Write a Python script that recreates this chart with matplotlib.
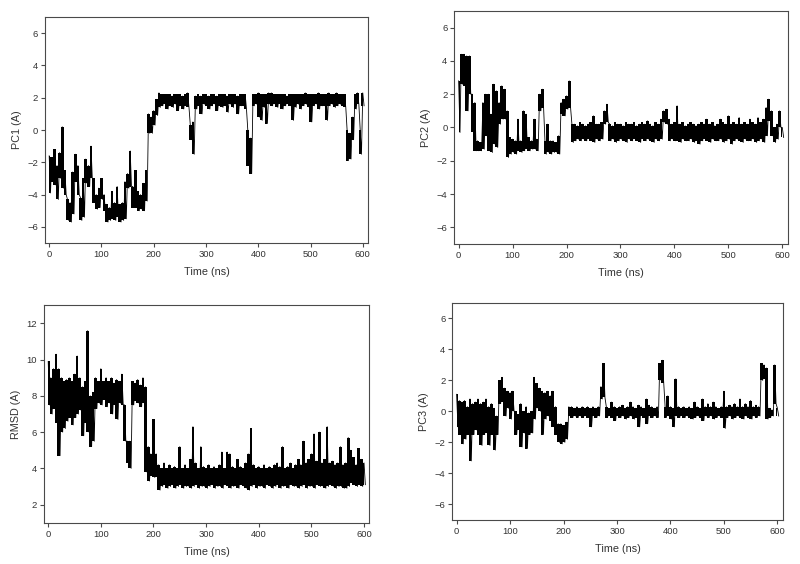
import numpy as np
import matplotlib
matplotlib.use("Agg")
import matplotlib.pyplot as plt

plt.rcParams['font.family'] = ['Liberation Sans', 'DejaVu Sans']

# Sampling grid (ns); each sample holds the upper and lower excursion
time_ns = np.arange(0, 605, 5)

pc1_hi = [-1.6, -1.7, -1.2, -2.2, -1.4, 0.2, -2.5, -4.3, -4.5, -2.6,
          -1.5, -2.2, -4.2, -3.0, -1.8, -2.2, -1.0, -3.0, -4.0, -3.6,
          -3.0, -4.0, -4.6, -4.8, -3.8, -4.5, -3.5, -4.6, -4.5, -3.2,
          -2.7, -1.3, -3.5, -2.5, -3.8, -4.0, -3.3, -2.5, 1.0, 0.8,
          1.2, 1.9, 2.3, 2.2, 2.2, 2.2, 2.2, 2.1, 2.2, 2.2,
          2.2, 2.1, 2.2, 2.3, 0.3, 0.5, 2.1, 2.2, 2.1, 2.2,
          2.2, 2.1, 2.2, 2.2, 2.1, 2.2, 2.2, 2.2, 2.1, 2.2,
          2.2, 2.2, 2.1, 2.2, 2.2, 2.2, 0.0, -0.5, 2.2, 2.2,
          2.3, 2.2, 2.2, 2.2, 2.3, 2.3, 2.2, 2.2, 2.2, 2.2,
          2.2, 2.1, 2.2, 2.2, 2.2, 2.2, 2.2, 2.2, 2.3, 2.2,
          2.2, 2.2, 2.2, 2.3, 2.2, 2.2, 2.2, 2.3, 2.2, 2.2,
          2.3, 2.2, 2.2, 2.2, 0.0, -0.2, 0.8, 2.2, 2.3, 0.0,
          2.3]
pc1_lo = [-3.9, -3.2, -3.4, -4.3, -3.0, -3.6, -4.0, -5.6, -5.7, -5.2,
          -3.2, -4.0, -5.6, -5.4, -3.3, -3.5, -3.0, -4.5, -4.9, -4.8,
          -4.3, -5.0, -5.7, -5.6, -5.5, -5.6, -5.4, -5.7, -5.6, -5.5,
          -3.6, -3.5, -4.8, -4.8, -5.0, -4.9, -5.0, -4.4, -0.2, -0.2,
          0.3, 0.9, 1.4, 1.5, 1.6, 1.3, 1.5, 1.4, 1.6, 1.2,
          1.5, 1.3, 1.5, 1.4, -0.6, -1.5, 1.3, 1.5, 1.0, 1.6,
          1.5, 1.3, 1.5, 1.6, 1.2, 1.5, 1.4, 1.5, 1.1, 1.6,
          1.4, 1.6, 1.0, 1.5, 1.5, 1.3, -2.2, -2.7, 1.5, 1.6,
          0.8, 0.6, 1.4, 0.4, 1.6, 1.5, 1.6, 1.4, 1.6, 1.3,
          1.5, 1.6, 1.5, 0.6, 1.4, 1.6, 1.3, 1.5, 1.6, 1.4,
          0.5, 1.5, 1.6, 1.3, 1.5, 1.5, 0.6, 1.5, 1.6, 1.4,
          1.5, 1.6, 1.5, 1.4, -1.9, -1.8, -0.6, 1.3, 1.6, -1.5,
          1.5]

pc2_hi = [2.8, 4.4, 4.4, 4.3, 4.3, 2.0, 1.5, -0.8, -0.9, 1.5,
          2.0, 2.0, 0.8, 2.6, 2.2, 1.5, 2.5, 2.3, 1.0, -0.6,
          -0.7, -0.8, 0.5, -0.8, 1.0, 0.8, -0.6, -0.8, 0.5, -0.7,
          2.0, 2.3, -0.8, 0.2, -0.8, -0.8, -0.9, -0.5, 1.5, 1.7,
          1.9, 2.8, 0.2, 0.2, 0.1, 0.3, 0.2, 0.1, 0.2, 0.3,
          0.7, 0.2, 0.2, 0.3, 1.0, 1.4, 0.2, 0.1, 0.3, 0.2,
          0.2, 0.1, 0.3, 0.2, 0.2, 0.3, 0.1, 0.2, 0.3, 0.2,
          0.4, 0.2, 0.1, 0.3, 0.2, 0.5, 1.0, 1.1, 0.5, 0.2,
          0.3, 1.3, 0.2, 0.3, 0.1, 0.2, 0.3, 0.2, 0.1, 0.2,
          0.3, 0.2, 0.5, 0.2, 0.3, 0.1, 0.2, 0.5, 0.3, 0.2,
          0.7, 0.2, 0.3, 0.2, 0.6, 0.2, 0.3, 0.2, 0.5, 0.3,
          0.2, 0.6, 0.3, 0.5, 1.2, 1.7, 1.0, 0.0, 0.2, 1.0,
          0.0]
pc2_lo = [-0.3, 2.6, 2.5, 1.0, 2.0, -0.3, -1.4, -1.4, -1.4, -1.3,
          -0.5, -1.4, -1.5, -1.0, -1.2, 0.2, 0.5, 0.5, -1.8, -1.6,
          -1.5, -1.6, -1.4, -1.5, -1.4, -1.3, -1.4, -1.3, -1.3, -1.4,
          1.0, 1.2, -1.6, -1.5, -1.6, -1.5, -1.5, -1.6, 0.8, 0.7,
          1.1, 1.2, -0.9, -0.8, -0.7, -0.8, -0.7, -0.8, -0.7, -0.8,
          -0.9, -0.7, -0.8, -0.7, 0.2, 0.3, -0.8, -0.7, -0.9, -0.8,
          -0.7, -0.8, -0.9, -0.7, -0.8, -0.7, -0.8, -0.9, -0.7, -0.8,
          -0.7, -0.8, -0.9, -0.7, -0.8, -0.7, 0.3, 0.2, -0.8, -0.7,
          -0.8, -0.8, -0.9, -0.7, -0.8, -0.8, -0.7, -0.9, -0.8, -1.0,
          -0.8, -0.7, -0.8, -0.9, -0.7, -0.8, -0.8, -0.7, -0.9, -0.8,
          -0.7, -1.0, -0.8, -0.7, -0.8, -0.9, -0.7, -0.8, -0.8, -0.7,
          -0.9, -0.8, -0.7, -0.9, -0.5, 0.4, -0.5, -0.9, -0.7, 0.0,
          -0.6]

rmsd_hi = [9.9, 9.0, 9.5, 10.3, 9.5, 9.0, 8.8, 8.9, 9.0, 8.8,
           9.2, 10.2, 9.0, 8.5, 8.8, 11.6, 8.0, 8.2, 9.0, 8.8,
           9.5, 8.8, 9.0, 8.8, 9.0, 8.7, 8.9, 8.8, 9.2, 7.5,
           5.5, 5.5, 8.8, 8.7, 8.9, 8.6, 9.0, 8.5, 5.2, 4.8,
           6.7, 4.8, 4.2, 4.0, 4.3, 4.0, 4.2, 4.0, 4.1, 4.0,
           5.2, 4.0, 4.2, 4.0, 4.5, 6.3, 4.3, 4.0, 5.2, 4.1,
           4.0, 4.2, 4.0, 4.1, 4.0, 4.2, 4.9, 4.0, 4.9, 4.8,
           4.1, 4.0, 4.5, 4.1, 4.0, 4.3, 4.8, 6.2, 4.2, 4.0,
           4.1, 4.0, 4.2, 4.0, 4.1, 4.0, 4.2, 4.3, 4.1, 5.2,
           4.0, 4.1, 4.3, 4.0, 4.2, 4.5, 4.2, 5.5, 4.3, 4.5,
           4.8, 5.9, 4.4, 6.0, 4.3, 4.5, 6.3, 4.3, 4.4, 4.2,
           4.3, 5.2, 4.2, 4.3, 5.7, 5.0, 4.6, 4.2, 5.1, 4.5,
           4.3]
rmsd_lo = [7.5, 7.0, 7.3, 6.5, 4.7, 6.0, 6.2, 6.6, 6.8, 6.4,
           6.8, 7.0, 7.2, 5.8, 6.5, 6.0, 5.2, 5.5, 7.3, 7.6,
           7.5, 7.8, 7.4, 7.6, 7.0, 7.5, 6.7, 7.6, 7.5, 5.5,
           4.3, 4.0, 7.5, 7.7, 7.6, 7.4, 7.6, 3.8, 3.3, 3.6,
           3.5, 3.5, 2.8, 3.0, 3.1, 2.9, 3.0, 3.1, 2.9, 3.0,
           3.1, 2.9, 3.0, 3.0, 2.9, 3.0, 3.1, 2.9, 3.0, 3.0,
           2.9, 3.0, 3.1, 2.9, 3.0, 3.0, 2.9, 3.1, 3.0, 2.9,
           3.0, 3.0, 2.9, 3.1, 3.0, 2.9, 2.8, 3.0, 3.1, 2.9,
           3.0, 3.0, 2.9, 3.1, 3.0, 2.9, 3.0, 3.1, 2.9, 3.0,
           3.0, 2.9, 3.1, 3.0, 3.0, 2.9, 3.0, 3.1, 2.9, 3.0,
           3.0, 2.9, 3.1, 3.0, 3.0, 2.9, 3.0, 3.1, 3.0, 2.9,
           3.0, 3.0, 2.9, 2.9, 3.0, 3.2, 3.1, 3.0, 3.1, 3.0,
           3.1]

pc3_hi = [1.1, 0.7, 0.6, 0.7, 0.3, 0.8, 0.5, 0.6, 0.8, 0.5,
          0.6, 0.8, 0.3, 0.5, 0.2, -0.3, 2.0, 2.2, 1.5, 1.3,
          1.2, 1.3, 0.0, -0.2, 0.5, 0.0, 0.3, -0.1, 0.0, 2.2,
          1.8, 1.5, 1.3, 1.2, 1.3, 1.0, 1.3, 0.3, -0.8, -0.8,
          -0.9, -0.7, 0.3, 0.3, 0.2, 0.3, 0.2, 0.3, 0.2, 0.3,
          0.2, 0.3, 0.2, 0.3, 1.6, 3.1, 0.3, 0.2, 0.6, 0.3,
          0.2, 0.3, 0.4, 0.2, 0.3, 0.6, 0.3, 0.2, 0.4, 0.3,
          0.2, 0.8, 0.4, 0.3, 0.2, 0.3, 3.1, 3.3, 0.3, 1.0,
          0.3, 0.2, 2.1, 0.3, 0.2, 0.3, 0.2, 0.3, 0.2, 0.6,
          0.3, 0.2, 0.8, 0.3, 0.5, 0.3, 0.6, 0.3, 0.2, 0.3,
          1.3, 0.3, 0.4, 0.3, 0.5, 0.3, 0.8, 0.3, 0.5, 0.3,
          0.7, 0.3, 0.4, 0.3, 3.1, 3.0, 2.8, 0.2, 0.1, 3.0,
          0.2]
pc3_lo = [-1.0, -1.5, -2.1, -1.8, -1.5, -3.2, -1.5, -1.2, -1.5, -2.2,
          -1.5, -1.4, -2.2, -1.5, -2.5, -1.5, 0.5, 0.6, -0.3, 0.2,
          -0.5, 0.0, -1.5, -1.2, -2.3, -1.4, -2.4, -1.5, -1.4, -0.5,
          0.2, 0.0, -1.5, -0.5, -0.3, -0.6, -1.0, -1.5, -2.0, -2.1,
          -2.0, -1.8, -0.3, -0.4, -0.3, -0.4, -0.3, -0.4, -0.3, -0.4,
          -1.0, -0.3, -0.4, -0.3, 0.8, 0.9, -0.4, -0.3, -0.4, -0.6,
          -0.3, -0.4, -0.3, -0.5, -0.4, -0.3, -0.5, -0.4, -1.0, -0.3,
          -0.4, -0.8, -0.3, -0.4, -0.3, -0.4, 2.0, 1.8, -0.4, -0.3,
          -0.5, -1.0, -0.3, -0.4, -0.3, -0.4, -0.3, -0.4, -0.5, -0.4,
          -0.3, -0.4, -0.6, -0.3, -0.4, -0.3, -0.5, -0.4, -0.3, -0.4,
          -1.1, -0.4, -0.3, -0.5, -0.4, -0.3, -0.4, -0.5, -0.3, -0.4,
          -0.5, -0.3, -0.4, -0.3, 2.0, 2.1, -0.5, -0.4, -0.3, 0.5,
          -0.3]

panels = [
    dict(hi=pc1_hi, lo=pc1_lo, ylabel="PC1 (A)", ylim=(-7, 7), yticks=[-6, -4, -2, 0, 2, 4, 6],
         rect=[0.05625, 0.5691, 0.40375, 0.4008]),
    dict(hi=pc2_hi, lo=pc2_lo, ylabel="PC2 (A)", ylim=(-7, 7), yticks=[-6, -4, -2, 0, 2, 4, 6],
         rect=[0.5679, 0.5674, 0.4167, 0.4131]),
    dict(hi=rmsd_hi, lo=rmsd_lo, ylabel="RMSD (A)", ylim=(1, 13), yticks=[2, 4, 6, 8, 10, 12],
         rect=[0.0550, 0.0732, 0.4066, 0.3855]),
    dict(hi=pc3_hi, lo=pc3_lo, ylabel="PC3 (A)", ylim=(-7, 7), yticks=[-6, -4, -2, 0, 2, 4, 6],
         rect=[0.5654, 0.0785, 0.4130, 0.3843]),
]

fig = plt.figure(figsize=(8.0, 5.64), dpi=100)
spine_c = '#4a4a4a'
text_c = '#333333'
for p in panels:
    ax = fig.add_axes(p['rect'])
    # fluctuation envelope at each sample, then the trace connecting the excursions
    ax.fill_between(time_ns, p['lo'], p['hi'], step='mid', color='black', lw=0)
    x = np.column_stack([time_ns, time_ns + 2.5]).ravel()
    y = np.column_stack([p['hi'], p['lo']]).ravel()
    ax.plot(x, y, color='black', lw=0.6)
    ax.set_xlim(-8, 610)
    ax.set_ylim(*p['ylim'])
    ax.set_xticks([0, 100, 200, 300, 400, 500, 600])
    ax.set_yticks(p['yticks'])
    ax.tick_params(direction='out', length=3, width=0.8, colors=spine_c, labelcolor=text_c,
                   labelsize=6.8, pad=2)
    for s in ax.spines.values():
        s.set_color(spine_c)
        s.set_linewidth(0.8)
    ax.set_xlabel("Time (ns)", fontsize=7.8, color=text_c, labelpad=6)
    ax.set_ylabel(p['ylabel'], fontsize=7.8, color=text_c, labelpad=4)

fig.savefig("out.png", dpi=100)
